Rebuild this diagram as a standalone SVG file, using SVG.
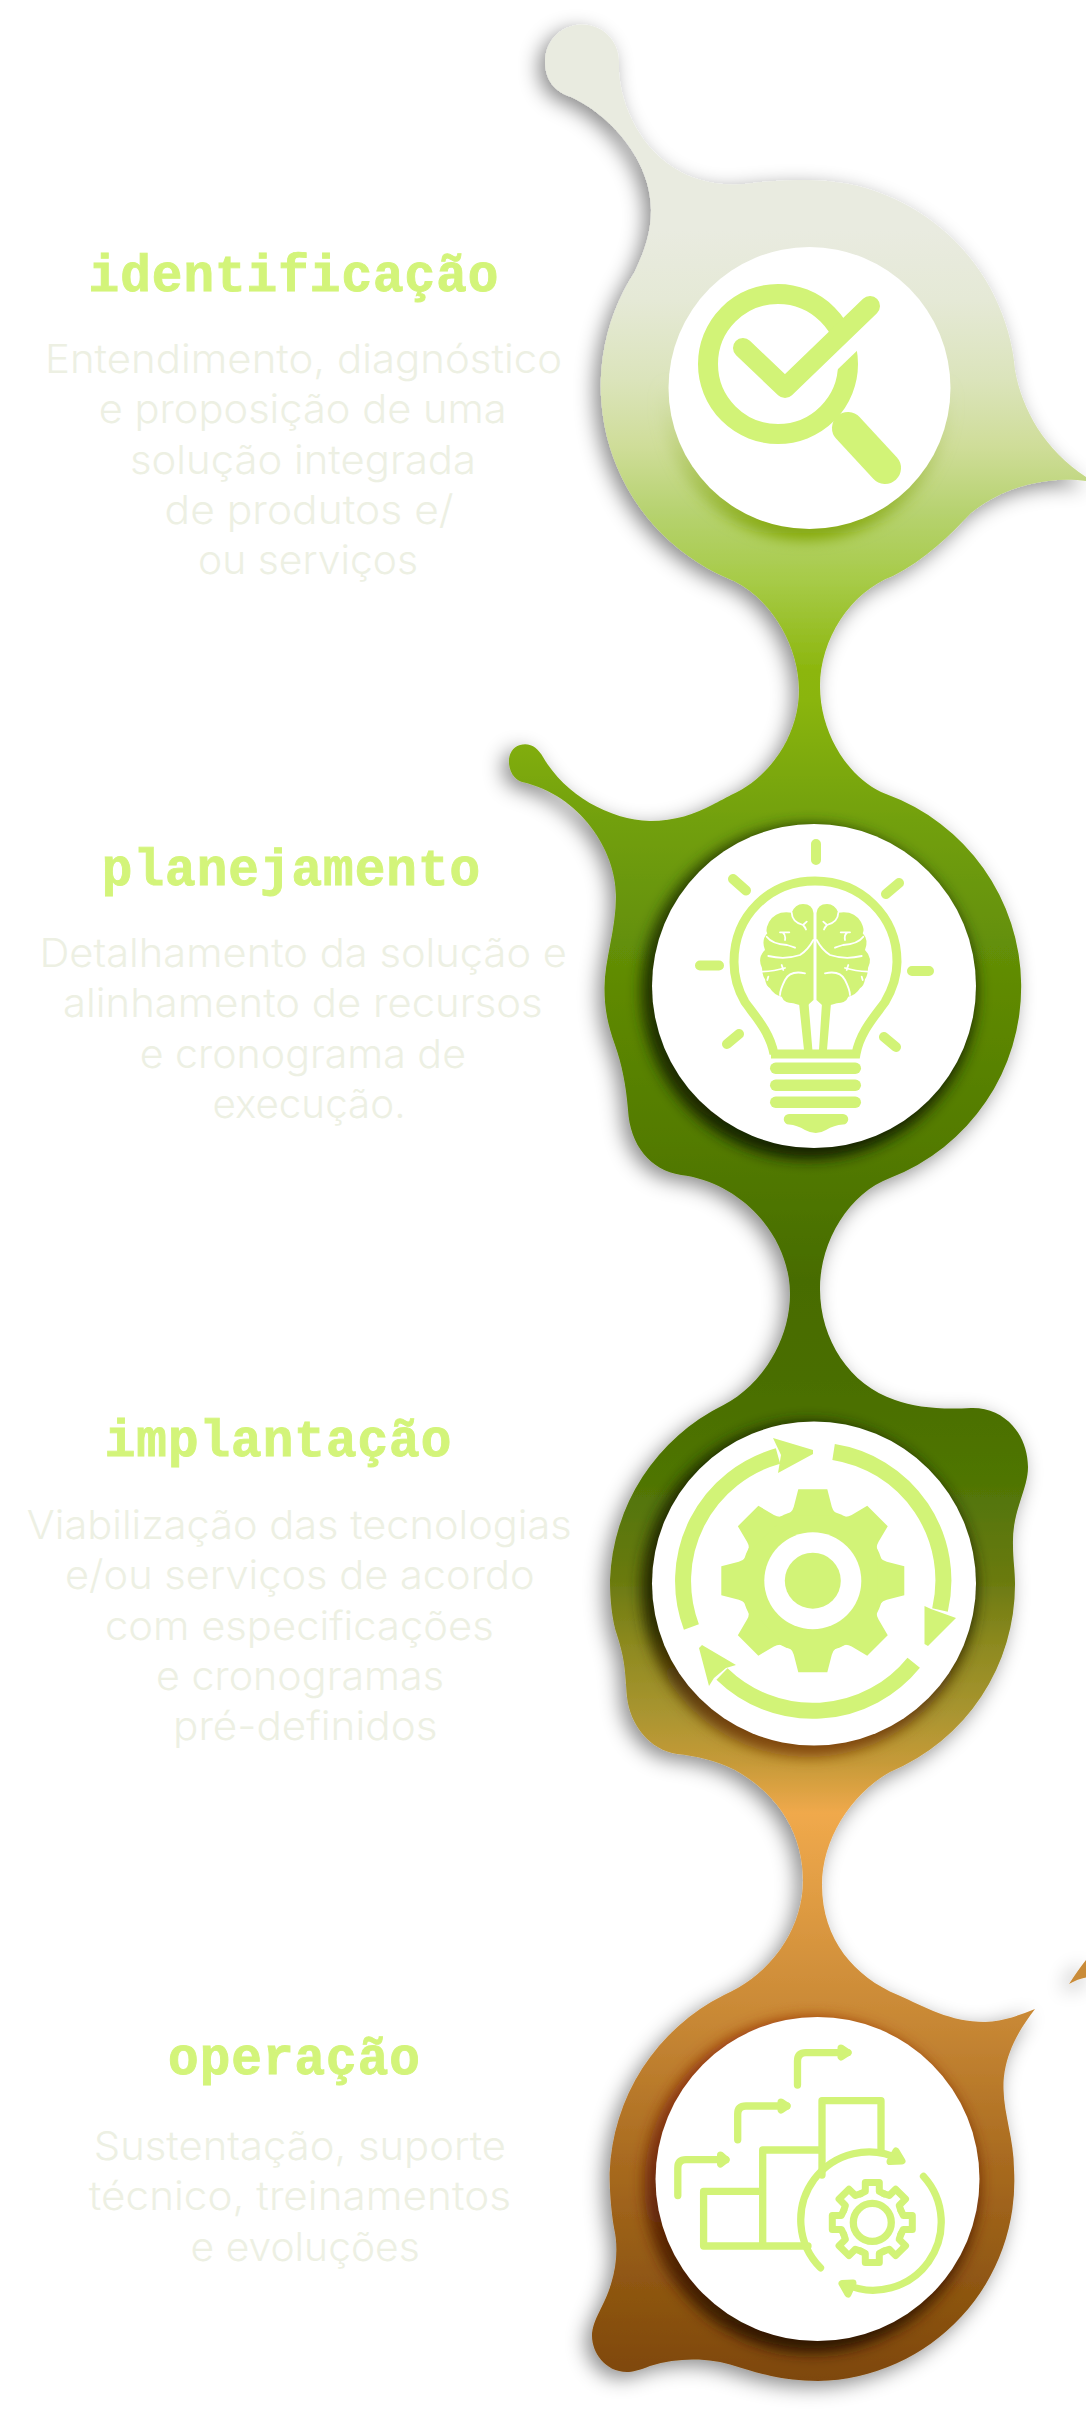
<svg xmlns="http://www.w3.org/2000/svg" xmlns:xlink="http://www.w3.org/1999/xlink" width="1086" height="2424" viewBox="0 0 1086 2424">
<style>
.t{font-family:"Liberation Mono","DejaVu Sans Mono",monospace;font-weight:700;font-size:51px;letter-spacing:1px;fill:#d3f47a;stroke:#d3f47a;stroke-width:.9px;text-anchor:middle}
.b{font-family:"Inter","Liberation Sans",sans-serif;font-weight:300;font-size:40px;fill:#edf0e3}
.g{fill:#d2f377}
.s{fill:none;stroke:#d2f377}
.disc{fill:#fff}
</style>
<defs>
<linearGradient id="spine" gradientUnits="userSpaceOnUse" x1="0" y1="0" x2="0" y2="2424">
<stop offset="0" stop-color="#e9ebe0"/><stop offset=".0949" stop-color="#e9ebe0"/><stop offset=".1238" stop-color="#e5e9d6"/><stop offset=".1568" stop-color="#dbe4bb"/><stop offset=".184" stop-color="#cfdd99"/><stop offset=".2116" stop-color="#b6d26f"/><stop offset=".2393" stop-color="#a7cb48"/><stop offset=".2764" stop-color="#8cb60e"/><stop offset=".2888" stop-color="#8ab50e"/><stop offset=".3383" stop-color="#72a00d"/><stop offset=".4068" stop-color="#5f8a05"/><stop offset=".4913" stop-color="#4f7600"/><stop offset=".528" stop-color="#476c00"/><stop offset=".5693" stop-color="#4a6e00"/><stop offset=".6106" stop-color="#4f7505"/><stop offset=".6518" stop-color="#6a7a10"/><stop offset=".6795" stop-color="#8e8a20"/><stop offset=".7067" stop-color="#a99530"/><stop offset=".7273" stop-color="#c69a38"/><stop offset=".748" stop-color="#f0a94c"/><stop offset=".7756" stop-color="#e39f45"/><stop offset=".8329" stop-color="#c88835"/><stop offset=".8903" stop-color="#a96b20"/><stop offset=".948" stop-color="#8c5410"/><stop offset=".9818" stop-color="#7e470a"/>
</linearGradient>
<linearGradient id="sh1" x1="0" y1="0" x2="0" y2="1"><stop offset=".45" stop-color="#c9d89a" stop-opacity="0"/><stop offset="1" stop-color="#7ea300"/></linearGradient>
<linearGradient id="sh2" x1="0" y1="0" x2="0" y2="1"><stop offset="0" stop-color="#2c4300"/><stop offset="1" stop-color="#172300"/></linearGradient>
<linearGradient id="sh3" x1="0" y1="0" x2="0" y2="1"><stop offset="0" stop-color="#1b2900"/><stop offset=".6" stop-color="#2a2c02"/><stop offset="1" stop-color="#8a4a10"/></linearGradient>
<linearGradient id="sh4" x1="0" y1="0" x2="0" y2="1"><stop offset="0" stop-color="#a03c0c"/><stop offset=".5" stop-color="#6e2a08"/><stop offset="1" stop-color="#2a1602"/></linearGradient>
<filter id="blobShadow" filterUnits="userSpaceOnUse" x="0" y="0" width="1086" height="2424"><feDropShadow dx="-6" dy="6" stdDeviation="10" flood-color="#000" flood-opacity=".45"/></filter>
<filter id="discShadow" x="-20%" y="-20%" width="140%" height="140%"><feGaussianBlur stdDeviation="7"/></filter>
<polyline id="tooth" points="-11.9,-28.6 -7,-31 -7,-40 7,-40 7,-31 11.9,-28.6" fill="none" stroke="#d2f377" stroke-width="7" stroke-linejoin="round" stroke-linecap="round"/>
<path id="bigTooth" class="g" d="M-14.5 -91.5 H14.5 L19 -74 Q21 -66 30 -65 L-30 -65 Q-21 -66 -19 -74Z"/>
<g id="hemi">
<path class="g" d="M813.5 913 Q812.5 904 803 904 Q795 904 791.7 912.7 Q776 910 769 922 Q765 930 767.3 933.3 Q761 940 765 950 Q757 958 762 968 Q762 975 765 979.3 Q766 986 770 988.3 Q774 995 781.7 996.7 Q784 1003 793.3 1003.3 Q800 1006 808 1005 L813.5 1000 Z"/>
<path fill="none" stroke="#fff" stroke-width="1.8" stroke-linecap="round" d="M791.7 912.7 Q792 922 803 925 Q805 927 806 929.5 M803 925 L806.7 921.7 M766.7 936.7 Q772 944 787 945 Q791 946 795 947.7 M785 940 Q786 935 783 932.7 M780 932.3 L789.3 932.3 M768.3 956 Q785 960 800 955 Q808 950 813.3 940 M761.7 971.7 Q775 971 785 968 M781.7 965 L783.3 970 M805 973.3 Q790 970 785 980 Q780 990 780 995 M768.3 976.7 L767.3 980"/>
</g>
</defs>
<rect width="1086" height="2424" fill="#fff"/>
<g id="spine-shape" filter="url(#blobShadow)">
<path fill="#c98b38" d="M1069 1984 Q1078 1970 1086 1960 V1977.6 Q1078 1979 1069 1984Z"/>
<path fill="url(#spine)" d="M545 62 C545 41 561 24.5 582 24.5 C603 24.5 619 41 619 62 L619 72 C621 105 640 150 681 172 C700 182 722 186 745 184 C765 181 785 180 808 180 A208 208 0 0 1 1015 370 C1022 410 1045 450 1086 477 L1086 481 C1050 476 1005 485 971 513 C950 535 925 560 893 576 C850 592 820 640 820 686 C820 735 850 780 886 794 A205 205 0 0 1 890 1178 C850 1193 820 1240 820 1289 C820 1340 850 1385 895 1400 C915 1407 940 1410 971 1408 C1005 1407 1028 1435 1028 1467 C1028 1490 1012 1510 1013 1545 C1013 1560 1015 1570 1015 1583 A203 203 0 0 1 890 1772 C850 1795 822 1840 822 1885 C822 1940 855 1977 898 1995 C925 2007 950 2022 985 2022 C1005 2021 1020 2015 1035 2009 C1015 2035 1003 2060 1003.5 2089 C1004 2115 1014 2140 1014 2169 A200 200 0 0 1 818 2381 C780 2381 755 2372 735 2366 C710 2358 680 2357 650 2366 C640 2370 632 2372 627 2372 C605 2372 592 2352 592 2336 C592 2320 605 2305 611 2284 C617 2265 618 2245 614 2228 C611 2210 609.6 2190 609.6 2173 A207 207 0 0 1 724 1995 C770 1975 803 1930 803 1880 C803 1835 780 1795 735 1770 C715 1760 695 1756 677 1754 C650 1750 630 1725 627 1697 C625 1670 625 1660 617 1635 C612 1620 610 1600 610 1580 A203 203 0 0 1 723.5 1405 C762 1385 790 1340 790 1294 C790 1235 740 1182 681 1175 C650 1170 630 1145 628 1110 C626 1085 622 1065 615 1045 C608 1025 604.5 1010 604.5 988 C604.5 960 616 930 616 896 C616 850 580 795 522 782 C507 778 503 750 520 745 C530 742 538 748 543 757 C565 795 610 820 650 821 C675 821 695 814 712 805 C720 801 725 798 731 795 C770 778 799 735 799 690 C799 645 770 595 727 578 A209 209 0 0 1 634.6 272 C645 250 651 232 651 210 C651 160 610 115 571 97 C555 92 545 80 545 62Z"/>
</g>
<g id="identificacao">
<circle cx="806" cy="394" r="146" fill="url(#sh1)" filter="url(#discShadow)"/>
<circle class="disc" cx="809.5" cy="388" r="141"/>
<circle class="s" cx="778" cy="364" r="70" stroke-width="20"/>
<line x1="790.5" y1="394" x2="882" y2="306" stroke="#fff" stroke-width="30"/>
<polyline class="s" points="743,348 785,388 870,306" stroke-width="20" stroke-linecap="round" stroke-linejoin="round"/>
<line class="s" x1="848" y1="428" x2="885" y2="468" stroke-width="32" stroke-linecap="round"/>
<text class="t" x="294" y="291">identificação</text>
<text class="b" x="45" y="373" textLength="517" lengthAdjust="spacingAndGlyphs">Entendimento, diagnóstico</text>
<text class="b" x="98.7" y="423" textLength="408" lengthAdjust="spacingAndGlyphs">e proposição de uma</text>
<text class="b" x="130" y="474" textLength="346" lengthAdjust="spacingAndGlyphs">solução integrada</text>
<text class="b" x="164.6" y="524" textLength="289" lengthAdjust="spacingAndGlyphs">de produtos e/</text>
<text class="b" x="198" y="574" textLength="220" lengthAdjust="spacingAndGlyphs">ou serviços</text>
</g>
<g id="planejamento">
<circle cx="809" cy="992" r="168" fill="url(#sh2)" filter="url(#discShadow)"/>
<circle class="disc" cx="814" cy="986" r="162"/>
<g class="s" stroke-width="10" stroke-linecap="round" fill="none">
<path d="M816 844V860M700 965.5H719M912 971H929M733 879L746 890.5M899 883L886 894M739 1034L727 1044M884 1037L896 1047"/>
</g>
<path class="s" stroke-width="9" d="M774 1054 C770 1032 755 1016 745 1002 C738 990 734 976 734 962 C734 915 770 881 815 881 C860 881 897 915 897 962 C897 976 892 990 885 1002 C875 1016 860 1032 856 1054 H771"/>
<rect class="g" x="770" y="1062.5" width="91" height="11.5" rx="5.7"/>
<rect class="g" x="770" y="1079.5" width="91" height="11.5" rx="5.7"/>
<rect class="g" x="770" y="1096.5" width="91" height="11.5" rx="5.7"/>
<path class="g" d="M789 1114 H843 a5.2 5.2 0 0 1 0 10.5 Q834 1125 826 1130 Q816 1136 805 1130 Q797 1125 789 1124.5 a5.2 5.2 0 0 1 0 -10.5Z"/>
<path class="g" d="M799 1003L804 1050H812.4L808.5 1003Z M822 1003L819 1050H827L831 1003Z"/>
<use href="#hemi"/>
<use href="#hemi" transform="translate(1630 0) scale(-1 1)"/>
<text class="t" x="291.5" y="885">planejamento</text>
<text class="b" x="39.4" y="966.7" textLength="527.6" lengthAdjust="spacingAndGlyphs">Detalhamento da solução e</text>
<text class="b" x="63" y="1017" textLength="479.7" lengthAdjust="spacingAndGlyphs">alinhamento de recursos</text>
<text class="b" x="139.7" y="1068" textLength="326.3" lengthAdjust="spacingAndGlyphs">e cronograma de</text>
<text class="b" x="212.4" y="1118" textLength="193.2" lengthAdjust="spacingAndGlyphs">execução.</text>
</g>
<g id="implantacao">
<circle cx="809" cy="1589" r="168" fill="url(#sh3)" filter="url(#discShadow)"/>
<circle class="disc" cx="814" cy="1583.5" r="162"/>
<g transform="translate(812.8 1580.7)">
<circle class="g" r="72"/>
<use href="#bigTooth"/><use href="#bigTooth" transform="rotate(45)"/><use href="#bigTooth" transform="rotate(90)"/><use href="#bigTooth" transform="rotate(135)"/><use href="#bigTooth" transform="rotate(180)"/><use href="#bigTooth" transform="rotate(225)"/><use href="#bigTooth" transform="rotate(270)"/><use href="#bigTooth" transform="rotate(315)"/>
<circle r="48.5" fill="#fff"/>
<circle class="g" r="28"/>
</g>
<path class="s" stroke-width="16" d="M691.4 1627 A130 130 0 0 1 778 1456 M833.6 1452 A130 130 0 0 1 940 1610 M913.7 1662.7 A130 130 0 0 1 722 1674"/>
<polygon class="g" points="773,1438 813,1450 813,1454 778,1473 781,1455"/>
<polygon class="g" points="924.5,1606 931,1609 956,1618 928,1646 924.5,1644"/>
<polygon class="g" points="699,1648 702,1645 736,1665 726,1668 714,1678 709,1686"/>
<text class="t" x="278.5" y="1455.7">implantação</text>
<text class="b" x="26.8" y="1539" textLength="545" lengthAdjust="spacingAndGlyphs">Viabilização das tecnologias</text>
<text class="b" x="65" y="1589" textLength="469.6" lengthAdjust="spacingAndGlyphs">e/ou serviços de acordo</text>
<text class="b" x="105" y="1640" textLength="388.7" lengthAdjust="spacingAndGlyphs">com especificações</text>
<text class="b" x="156" y="1690" textLength="288" lengthAdjust="spacingAndGlyphs">e cronogramas</text>
<text class="b" x="173" y="1740" textLength="264.4" lengthAdjust="spacingAndGlyphs">pré-definidos</text>
</g>
<g id="operacao">
<circle cx="812" cy="2185" r="168" fill="url(#sh4)" filter="url(#discShadow)"/>
<circle class="disc" cx="817.5" cy="2179" r="162"/>
<g class="s" stroke-width="7.3" stroke-linecap="round" stroke-linejoin="round">
<path d="M703.6 2191.4 H762.7 M703.6 2191.4 V2246 H808 M762.7 2246 V2150 H822 M822 2175 V2100.7 H881 V2152"/>
<path d="M677.8 2195.6 V2168 Q677.8 2159.7 686 2159.7 H726 M737.7 2139.8 V2114 Q737.7 2106 746 2106 H787 M797.5 2085 V2061 Q797.5 2052.6 806 2052.6 H848"/>
<path d="M820.5 2267.8 A68 68 0 0 1 900 2159.5 M923.5 2176.4 A68 68 0 0 1 846 2284.5"/>
<circle cx="872.3" cy="2222.4" r="19"/>
</g>
<g class="g" stroke="#d2f377" stroke-width="7" stroke-linejoin="round">
<polygon points="720.5,2155 726,2159.7 720.5,2164"/>
<polygon points="781,2102 787,2106 781,2110"/>
<polygon points="841,2048 848,2052.6 841,2057"/>
<polygon points="896,2151 902,2161 890,2161.5"/>
<polygon points="842,2283.5 853,2283 848,2294"/>
</g>
<g transform="translate(872.3 2222.4)">
<use href="#tooth"/><use href="#tooth" transform="rotate(45)"/><use href="#tooth" transform="rotate(90)"/><use href="#tooth" transform="rotate(135)"/><use href="#tooth" transform="rotate(180)"/><use href="#tooth" transform="rotate(225)"/><use href="#tooth" transform="rotate(270)"/><use href="#tooth" transform="rotate(315)"/>
</g>
<text class="t" x="294.5" y="2074">operação</text>
<text class="b" x="93.8" y="2160" textLength="412.2" lengthAdjust="spacingAndGlyphs">Sustentação, suporte</text>
<text class="b" x="88.8" y="2210" textLength="422.2" lengthAdjust="spacingAndGlyphs">técnico, treinamentos</text>
<text class="b" x="190.6" y="2260.7" textLength="229.2" lengthAdjust="spacingAndGlyphs">e evoluções</text>
</g>
</svg>
